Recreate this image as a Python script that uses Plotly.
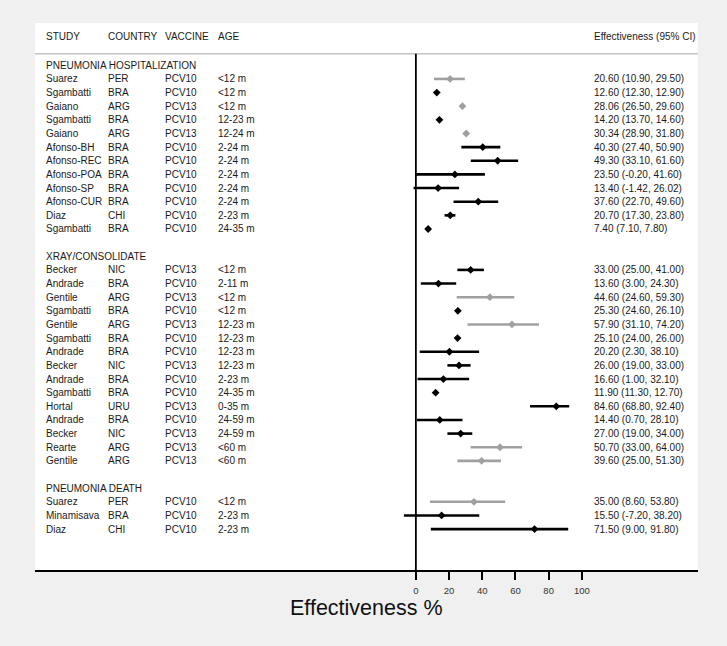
import plotly.graph_objects as go

# ---------------- data ----------------
group_names = ["PNEUMONIA HOSPITALIZATION", "XRAY/CONSOLIDATE", "PNEUMONIA DEATH"]
group_sizes = [12, 15, 3]

study = ["Suarez", "Sgambatti", "Gaiano", "Sgambatti", "Gaiano", "Afonso-BH", "Afonso-REC",
         "Afonso-POA", "Afonso-SP", "Afonso-CUR", "Diaz", "Sgambatti",
         "Becker", "Andrade", "Gentile", "Sgambatti", "Gentile", "Sgambatti", "Andrade",
         "Becker", "Andrade", "Sgambatti", "Hortal", "Andrade", "Becker", "Rearte", "Gentile",
         "Suarez", "Minamisava", "Diaz"]
country = ["PER", "BRA", "ARG", "BRA", "ARG", "BRA", "BRA", "BRA", "BRA", "BRA", "CHI", "BRA",
           "NIC", "BRA", "ARG", "BRA", "ARG", "BRA", "BRA", "NIC", "BRA", "BRA", "URU", "BRA",
           "NIC", "ARG", "ARG",
           "PER", "BRA", "CHI"]
vaccine = ["PCV10", "PCV10", "PCV13", "PCV10", "PCV13", "PCV10", "PCV10", "PCV10", "PCV10",
           "PCV10", "PCV10", "PCV10",
           "PCV13", "PCV10", "PCV13", "PCV10", "PCV13", "PCV10", "PCV10", "PCV13", "PCV10",
           "PCV10", "PCV13", "PCV10", "PCV13", "PCV13", "PCV13",
           "PCV10", "PCV10", "PCV10"]
age = ["<12 m", "<12 m", "<12 m", "12-23 m", "12-24 m", "2-24 m", "2-24 m", "2-24 m", "2-24 m",
       "2-24 m", "2-23 m", "24-35 m",
       "<12 m", "2-11 m", "<12 m", "<12 m", "12-23 m", "12-23 m", "12-23 m", "12-23 m",
       "2-23 m", "24-35 m", "0-35 m", "24-59 m", "24-59 m", "<60 m", "<60 m",
       "<12 m", "2-23 m", "2-23 m"]
est = [20.60, 12.60, 28.06, 14.20, 30.34, 40.30, 49.30, 23.50, 13.40, 37.60, 20.70, 7.40,
       33.00, 13.60, 44.60, 25.30, 57.90, 25.10, 20.20, 26.00, 16.60, 11.90, 84.60, 14.40,
       27.00, 50.70, 39.60,
       35.00, 15.50, 71.50]
lo = [10.90, 12.30, 26.50, 13.70, 28.90, 27.40, 33.10, -0.20, -1.42, 22.70, 17.30, 7.10,
      25.00, 3.00, 24.60, 24.60, 31.10, 24.00, 2.30, 19.00, 1.00, 11.30, 68.80, 0.70,
      19.00, 33.00, 25.00,
      8.60, -7.20, 9.00]
hi = [29.50, 12.90, 29.60, 14.60, 31.80, 50.90, 61.60, 41.60, 26.02, 49.60, 23.80, 7.80,
      41.00, 24.30, 59.30, 26.10, 74.20, 26.00, 38.10, 33.00, 32.10, 12.70, 92.40, 28.10,
      34.00, 64.00, 51.30,
      53.80, 38.20, 91.80]
shade = ["gray", "black", "gray", "black", "gray", "black", "black", "black", "black", "black",
         "black", "black",
         "black", "black", "gray", "black", "gray", "black", "black", "black", "black", "black",
         "black", "black", "black", "gray", "gray",
         "gray", "black", "black"]

col_headers = ["STUDY", "COUNTRY", "VACCINE", "AGE"]
ci_header = "Effectiveness (95% CI)"
x_title = "Effectiveness %"
tick_values = [0, 20, 40, 60, 80, 100]

# ---------------- layout of rows ----------------
row_y = []
group_y = []
r = 0
for g, n in zip(group_names, group_sizes):
    group_y.append(r)
    r += 1
    for _ in range(n):
        row_y.append(r)
        r += 1
    r += 1  # blank row

colors = {"black": "#000000", "gray": "#a0a0a0"}
FONT = "Arial, 'Liberation Sans', sans-serif"
TXT = "#1a1a1a"

fig = go.Figure()
for s in ["black", "gray"]:
    idx = [i for i, v in enumerate(shade) if v == s]
    fig.add_trace(go.Scatter(
        x=[est[i] for i in idx],
        y=[row_y[i] for i in idx],
        mode="markers",
        marker=dict(symbol="diamond", size=6, color=colors[s]),
        error_x=dict(type="data", symmetric=False,
                     array=[hi[i] - est[i] for i in idx],
                     arrayminus=[est[i] - lo[i] for i in idx],
                     color=colors[s], thickness=2.6, width=0),
        showlegend=False, hoverinfo="skip",
    ))

col_x = [0.0136, 0.107, 0.193, 0.273]
ci_x = 0.8397
ann = []

def txt(x, y, t, size=10, yref="y", xanchor="left", color=TXT):
    ann.append(dict(x=x, y=y, xref="paper", yref=yref, text=t, showarrow=False,
                    xanchor=xanchor, yanchor="middle",
                    font=dict(family=FONT, size=size, color=color)))

header_row = -2.1
for cx, h in zip(col_x, col_headers):
    txt(cx, header_row, h)
txt(ci_x, header_row, ci_header)

for gy, gname in zip(group_y, group_names):
    txt(col_x[0], gy, gname)

for i in range(len(study)):
    y = row_y[i]
    txt(col_x[0], y, study[i])
    txt(col_x[1], y, country[i])
    txt(col_x[2], y, vaccine[i])
    txt(col_x[3], y, age[i])
    txt(ci_x, y, f"{est[i]:.2f} ({lo[i]:.2f}, {hi[i]:.2f})")

ann.append(dict(x=0.5, y=-0.0695, xref="paper", yref="paper", text=x_title,
                showarrow=False, xanchor="center", yanchor="middle",
                font=dict(family=FONT, size=21.5, color="#111111")))

sep = -0.85
shapes = [
    dict(type="line", xref="paper", yref="y", x0=0, x1=1, y0=sep, y1=sep,
         line=dict(color="#c4c4c4", width=1.5)),
    dict(type="line", xref="x", yref="y", x0=0, x1=0, y0=sep, y1=37,
         line=dict(color="#000000", width=1.8)),
]

fig.update_layout(
    width=727, height=646,
    margin=dict(l=35, r=29, t=23, b=76),
    paper_bgcolor="#f0f0f0",
    plot_bgcolor="#ffffff",
    annotations=ann,
    shapes=shapes,
    font=dict(family=FONT, color=TXT),
    xaxis=dict(range=[-229.5, 170], tickvals=tick_values, ticks="outside", ticklen=8,
               tickwidth=1.5, tickcolor="#000000", showline=True, linecolor="#000000",
               linewidth=2, showgrid=False, zeroline=False, ticklabelstandoff=3,
               tickfont=dict(family=FONT, size=9.5, color="#333333")),
    yaxis=dict(range=[37, -3.1], visible=False, showgrid=False, zeroline=False),
)

fig.write_html("out.html",
               config={"displayModeBar": False},
               post_script="document.body.style.margin='0';document.body.style.overflow='hidden';")
